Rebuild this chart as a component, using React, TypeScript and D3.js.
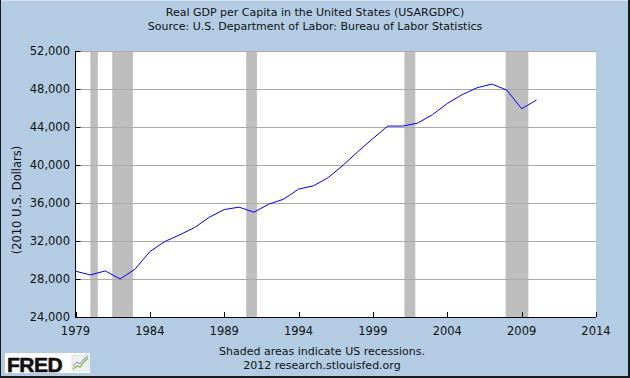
import React from "react";
import * as d3 from "d3";

const years = [1979,1980,1981,1982,1983,1984,1985,1986,1987,1988,1989,1990,1991,1992,1993,1994,1995,1996,1997,1998,1999,2000,2001,2002,2003,2004,2005,2006,2007,2008,2009,2010];
const gdpPerCapita = [28820,28430,28850,28000,29030,30880,31940,32640,33410,34500,35310,35560,35030,35880,36400,37460,37810,38680,39990,41420,42790,44100,44100,44400,45290,46480,47400,48130,48520,47890,45920,46840];
const recessionStarts = [1980.0,1981.47,1990.48,2001.12,2007.92];
const recessionEnds = [1980.5,1982.86,1991.2,2001.85,2009.45];
const yTicks = [24000,28000,32000,36000,40000,44000,48000,52000];
const xTicks = [1979,1984,1989,1994,1999,2004,2009,2014];

const W = 630, H = 378;
const M = { left: 75.5, right: 596, top: 51, bottom: 317 };
const FONT = "'DejaVu Sans', Verdana, sans-serif";

export default function App() {
  const x = d3.scaleLinear().domain([1979, 2014]).range([M.left, M.right]);
  const y = d3.scaleLinear().domain([24000, 52000]).range([M.bottom, M.top]);
  const line = d3.line<number>().x((_, i) => x(years[i])).y((d) => y(d));
  const fmt = d3.format(",");
  return (
    <svg width={W} height={H} style={{ position: "absolute", left: 0, top: 0 }} fontFamily={FONT}>
      <rect x={0} y={0} width={W} height={H} fill="#B3CCE3" />
      <line x1={0} y1={0.5} x2={W} y2={0.5} stroke="#D6E3EF" />
      <line x1={0.5} y1={0} x2={0.5} y2={H} stroke="#1a1a1a" />
      <line x1={629} y1={0} x2={629} y2={H} stroke="#1a1a1a" strokeWidth={2} />
      <line x1={0} y1={377} x2={W} y2={377} stroke="#1a1a1a" strokeWidth={2} />
      <text x={315} y={16} textAnchor="middle" fontSize={11} fill="#111">Real GDP per Capita in the United States (USARGDPC)</text>
      <text x={315} y={30} textAnchor="middle" fontSize={11} fill="#111">Source: U.S. Department of Labor: Bureau of Labor Statistics</text>
      <rect x={M.left} y={M.top} width={M.right - M.left} height={M.bottom - M.top} fill="#fff" />
      {recessionStarts.map((s, i) => (
        <rect key={i} x={x(s)} y={M.top} width={x(recessionEnds[i]) - x(s)} height={M.bottom - M.top} fill="#BEBEBE" />
      ))}
      {yTicks.slice(1).map((t) => (
        <line key={t} x1={M.left} x2={M.right} y1={Math.round(y(t)) + 0.5} y2={Math.round(y(t)) + 0.5} stroke="#AAAAAA" />
      ))}
      <path d={line(gdpPerCapita) || ""} fill="none" stroke="#0000FF" strokeWidth={1} />
      <line x1={M.left} x2={M.left} y1={M.top} y2={M.bottom + 0.5} stroke="#000" />
      <line x1={M.left} x2={M.right} y1={M.bottom + 0.5} y2={M.bottom + 0.5} stroke="#000" />
      {yTicks.map((t) => (
        <g key={t}>
          <line x1={M.left} x2={M.left + 5} y1={Math.round(y(t)) + 0.5} y2={Math.round(y(t)) + 0.5} stroke="#000" />
          <text x={70} y={y(t) + 4} textAnchor="end" fontSize={11.5} fill="#111">{fmt(t)}</text>
        </g>
      ))}
      {xTicks.map((t) => (
        <g key={t}>
          <line x1={Math.round(x(t)) + 0.5} x2={Math.round(x(t)) + 0.5} y1={M.bottom} y2={M.bottom - 5} stroke="#000" />
          <text x={x(t)} y={335} textAnchor="middle" fontSize={11.5} fill="#111">{t}</text>
        </g>
      ))}
      <text transform={`translate(21,200) rotate(-90)`} textAnchor="middle" fontSize={11.5} fill="#111">(2010 U.S. Dollars)</text>
      <text x={322} y={355} textAnchor="middle" fontSize={11} fill="#111">Shaded areas indicate US recessions.</text>
      <text x={322} y={369} textAnchor="middle" fontSize={11} fill="#111">2012 research.stlouisfed.org</text>
      <g>
        <rect x={5} y={353} width={85} height={20} fill="#fff" />
        <text x={7} y={372} fontSize={21} fontWeight={900} fontFamily="'Liberation Sans', Arial, sans-serif" fill="#111" letterSpacing={-0.5} stroke="#111" strokeWidth={0.6}>FRED</text>
        <rect x={72} y={355} width={17} height={16} fill="#F0F0F0" stroke="#ccc" strokeWidth={0.5} />
        <polyline points="73,369 77,366 80,367 84,362 88,358" fill="none" stroke="#7AB648" strokeWidth={1.2} />
        <polyline points="73,366 77,362 80,364 84,359 88,356" fill="none" stroke="#6A8FC8" strokeWidth={1} />
      </g>
    </svg>
  );
}
